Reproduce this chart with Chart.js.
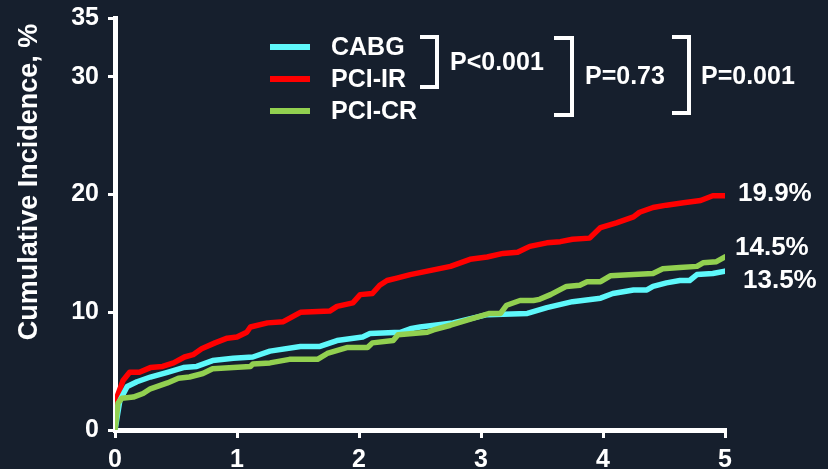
<!DOCTYPE html>
<html>
<head>
<meta charset="utf-8">
<script src="https://cdn.jsdelivr.net/npm/chart.js@4.4.1/dist/chart.umd.min.js"></script>
<style>
    body { margin: 0; background: #161f2d; }
    canvas { display: block; }
</style>
</head>
<body>
<canvas id="grafico" width="828" height="469"></canvas>
<script>
// anos de seguimento e incidencia acumulada (%)
const cabgAnos = [0, 0.04, 0.10, 0.18, 0.29, 0.43, 0.56, 0.67, 0.80, 0.97, 1.13, 1.27, 1.52, 1.68, 1.82, 2.03, 2.09, 2.34, 2.42, 2.50, 2.77, 3.05, 3.38, 3.54, 3.75, 3.98, 4.08, 4.25, 4.36, 4.41, 4.52, 4.63, 4.71, 4.77, 4.90, 5.00]
const cabgValores = [0, 2.5, 3.7, 4.1, 4.5, 4.9, 5.3, 5.4, 5.9, 6.1, 6.2, 6.7, 7.1, 7.1, 7.6, 7.9, 8.2, 8.3, 8.6, 8.75, 9.1, 9.8, 9.9, 10.4, 10.9, 11.2, 11.6, 11.9, 11.9, 12.2, 12.5, 12.7, 12.7, 13.2, 13.3, 13.5]

const pciIrAnos = [0, 0.016, 0.066, 0.12, 0.20, 0.29, 0.39, 0.48, 0.57, 0.64, 0.71, 0.82, 0.92, 1.00, 1.08, 1.11, 1.25, 1.38, 1.52, 1.76, 1.82, 1.95, 2.01, 2.11, 2.17, 2.23, 2.31, 2.42, 2.61, 2.75, 2.91, 3.05, 3.18, 3.30, 3.40, 3.54, 3.65, 3.75, 3.89, 3.98, 4.11, 4.25, 4.30, 4.41, 4.52, 4.66, 4.80, 4.90, 5.00]
const pciIrValores = [0, 2.8, 4.2, 4.9, 4.9, 5.3, 5.4, 5.7, 6.2, 6.4, 6.9, 7.4, 7.8, 7.9, 8.3, 8.75, 9.1, 9.2, 10.0, 10.1, 10.5, 10.8, 11.5, 11.6, 12.3, 12.7, 12.9, 13.2, 13.6, 13.9, 14.5, 14.7, 15.0, 15.1, 15.6, 15.9, 16.0, 16.2, 16.3, 17.2, 17.6, 18.1, 18.5, 18.9, 19.1, 19.3, 19.5, 19.9, 19.9]

const pciCrAnos = [0, 0.025, 0.057, 0.15, 0.23, 0.29, 0.43, 0.52, 0.61, 0.72, 0.80, 0.97, 1.11, 1.13, 1.27, 1.43, 1.66, 1.74, 1.90, 2.07, 2.11, 2.28, 2.32, 2.56, 2.61, 2.75, 3.07, 3.16, 3.21, 3.32, 3.43, 3.48, 3.57, 3.70, 3.81, 3.87, 3.98, 4.06, 4.25, 4.41, 4.49, 4.63, 4.77, 4.82, 4.93, 5.00]
const pciCrValores = [0, 2.3, 2.7, 2.8, 3.1, 3.5, 4.0, 4.4, 4.5, 4.8, 5.2, 5.3, 5.4, 5.6, 5.7, 6.0, 6.0, 6.5, 7.0, 7.0, 7.4, 7.6, 8.1, 8.3, 8.5, 8.9, 9.9, 9.9, 10.6, 11.0, 11.0, 11.1, 11.5, 12.2, 12.3, 12.6, 12.6, 13.1, 13.2, 13.3, 13.7, 13.8, 13.9, 14.2, 14.3, 14.7]

const nomesSeries = ['CABG', 'PCI-IR', 'PCI-CR']
const coresSeries = ['#5ef8fb', '#ff0000', '#92d050']
const rotulosFinais = ['13.5%', '19.9%', '14.5%']
const valoresP = ['P<0.001', 'P=0.73', 'P=0.001']
const ticksX = [0, 1, 2, 3, 4, 5]
const ticksY = [0, 10, 20, 30, 35]

const fonte = 'Liberation Sans, Arial, sans-serif'

function montarPontos(anos, valores) {
    const pontos = []
    for (let i = 0; i < anos.length; i++) {
        pontos.push({ x: anos[i], y: valores[i] })
    }
    return pontos
}

// fundo escuro + textos de cima (legenda, colchetes, valores p, rotulos do fim)
const pluginDesenho = {
    id: 'desenho',
    beforeDraw(chart) {
        const ctx = chart.ctx
        ctx.save()
        ctx.fillStyle = '#161f2d'
        ctx.fillRect(0, 0, chart.width, chart.height)
        ctx.restore()
    },
    afterDraw(chart) {
        const ctx = chart.ctx
        ctx.save()
        ctx.fillStyle = '#ffffff'
        ctx.strokeStyle = '#ffffff'

        // titulo do eixo y
        ctx.save()
        ctx.translate(30, 182)
        ctx.rotate(-Math.PI / 2)
        ctx.font = 'bold 27px ' + fonte
        ctx.textAlign = 'center'
        ctx.textBaseline = 'middle'
        ctx.fillText('Cumulative Incidence, %', 0, 0)
        ctx.restore()

        // legenda
        const linhasLegenda = [47, 79, 111]
        ctx.font = 'bold 25px ' + fonte
        ctx.textAlign = 'left'
        ctx.textBaseline = 'middle'
        for (let i = 0; i < nomesSeries.length; i++) {
            ctx.fillStyle = coresSeries[i]
            ctx.fillRect(270, linhasLegenda[i] - 3, 40, 6)
            ctx.fillStyle = '#ffffff'
            ctx.fillText(nomesSeries[i], 331, linhasLegenda[i] + 1)
        }

        // colchetes
        ctx.lineWidth = 4
        const colchetes = [[420, 437, 37, 87], [554, 572, 38, 115], [672, 689, 37, 113]]
        colchetes.forEach(c => {
            ctx.beginPath()
            ctx.moveTo(c[0], c[2])
            ctx.lineTo(c[1], c[2])
            ctx.lineTo(c[1], c[3])
            ctx.lineTo(c[0], c[3])
            ctx.stroke()
        })
        ctx.fillText(valoresP[0], 450, 63)
        ctx.fillText(valoresP[1], 585, 77)
        ctx.fillText(valoresP[2], 701, 77)

        // rotulos no fim das curvas
        ctx.font = 'bold 26px ' + fonte
        ctx.fillText(rotulosFinais[1], 738, 194)
        ctx.fillText(rotulosFinais[2], 735, 248)
        ctx.fillText(rotulosFinais[0], 743, 281)
        ctx.restore()
    }
}

const dados = {
    datasets: [
        {
            label: nomesSeries[0],
            data: montarPontos(cabgAnos, cabgValores),
            borderColor: coresSeries[0],
            order: 1
        },
        {
            label: nomesSeries[1],
            data: montarPontos(pciIrAnos, pciIrValores),
            borderColor: coresSeries[1],
            order: 2
        },
        {
            label: nomesSeries[2],
            data: montarPontos(pciCrAnos, pciCrValores),
            borderColor: coresSeries[2],
            order: 0
        }
    ]
}

const config = {
    type: 'line',
    data: dados,
    options: {
        responsive: false,
        animation: false,
        layout: { padding: { top: 18, right: 103, left: 0, bottom: 0 } },
        elements: {
            line: { borderWidth: 5.5, tension: 0, fill: false, borderJoinStyle: 'round', borderCapStyle: 'round' },
            point: { radius: 0 }
        },
        plugins: {
            legend: { display: false },
            tooltip: { enabled: false }
        },
        scales: {
            x: {
                type: 'linear',
                min: 0,
                max: 5,
                afterBuildTicks: s => { s.ticks = ticksX.map(v => ({ value: v })) },
                afterFit: s => { s.height = 39; s.paddingLeft = 0; s.paddingRight = 0 },
                ticks: { color: '#ffffff', font: { family: fonte, size: 25, weight: 'bold' }, padding: 7, maxRotation: 0 },
                grid: { drawOnChartArea: false, color: '#ffffff', lineWidth: 3, tickLength: 8 },
                border: { color: '#ffffff', width: 5 }
            },
            y: {
                min: 0,
                max: 35,
                afterBuildTicks: s => { s.ticks = ticksY.map(v => ({ value: v })) },
                afterFit: s => { s.width = 115; s.paddingTop = 0; s.paddingBottom = 0 },
                ticks: { color: '#ffffff', font: { family: fonte, size: 25, weight: 'bold' }, padding: 9 },
                grid: { drawOnChartArea: false, color: '#ffffff', lineWidth: 3, tickLength: 7 },
                border: { color: '#ffffff', width: 5 }
            }
        }
    },
    plugins: [pluginDesenho]
}

const grafico = new Chart(document.getElementById('grafico').getContext('2d'), config)
</script>
</body>
</html>
